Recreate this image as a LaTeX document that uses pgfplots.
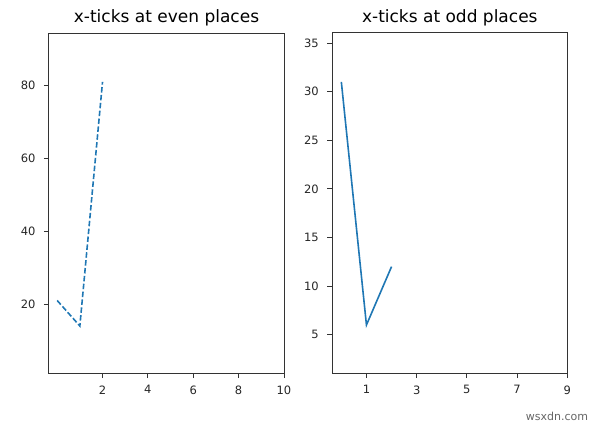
\documentclass[border=0pt]{standalone}
\usepackage{fontspec}
\setmainfont{DejaVu Sans}
\usepackage{pgfplots}
\pgfplotsset{compat=1.18}
\definecolor{mplblue}{HTML}{1F77B4}
\definecolor{axgray}{HTML}{333333}
\pgfplotsset{
  panel/.style={
    scale only axis, anchor=south west,
    width=235pt, height=340pt,
    axis line style={axgray, line width=1pt},
    tick align=outside, xtick pos=bottom, ytick pos=left,
    major tick length=5pt,
    every tick/.style={axgray, line width=1pt},
    tick label style={font=\fontsize{11.5}{13}\selectfont, text=black!85},
    xticklabel style={yshift=-4pt},
    yticklabel style={xshift=-5pt},
    /pgf/number format/assume math mode=true,
    title style={font=\fontsize{17}{19}\selectfont, yshift=-3pt},
  }
}
\begin{document}
\begin{tikzpicture}[x=1pt,y=1pt]
  \path[use as bounding box] (0,0) rectangle (600,426);
  \begin{axis}[panel, at={(49pt,53pt)},
      title={x-ticks at even places},
      xmin=-0.36, xmax=10, ymin=1.1, ymax=94.4,
      xtick={2,4,6,8,10}, ytick={20,40,60,80}]
    \addplot[mplblue, line width=1.6pt, dash pattern=on 5.5pt off 2.4pt] coordinates {(0,21) (1,14) (2,81)};
  \end{axis}
  \begin{axis}[panel, at={(332.3pt,53pt)},
      title={x-ticks at odd places},
      xmin=-0.36, xmax=9, ymin=1.06, ymax=36.03,
      xtick={1,3,5,7,9}, ytick={5,10,15,20,25,30,35}]
    \addplot[mplblue, line width=1.6pt] coordinates {(0,31) (1,6) (2,12)};
  \end{axis}
  \node[text=black!60, font=\fontsize{11}{13}\selectfont] at (557,10) {wsxdn.com};
\end{tikzpicture}
\end{document}
